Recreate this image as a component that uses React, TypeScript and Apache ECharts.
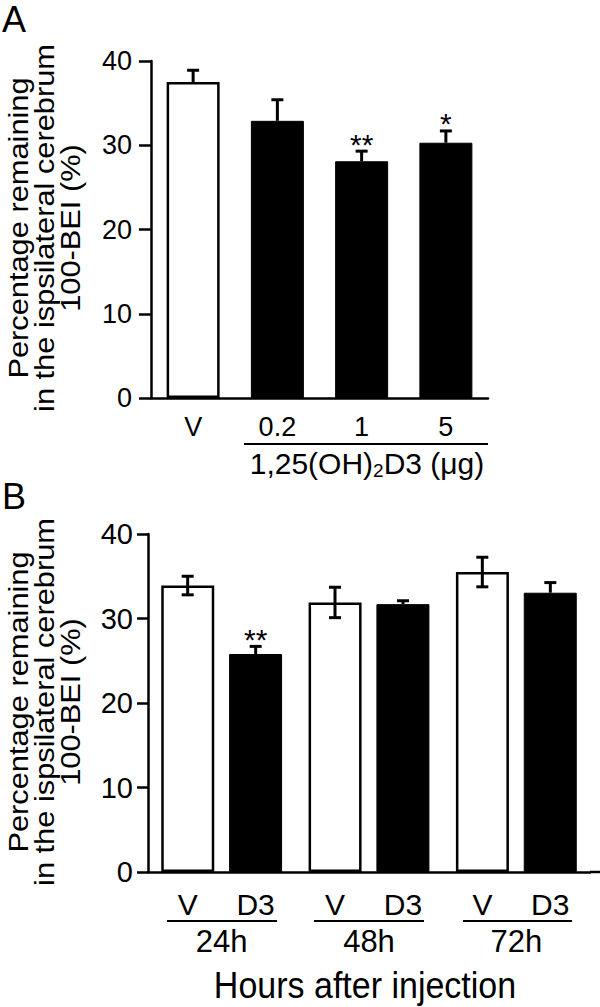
import React, { useEffect, useRef } from "react";
import * as echarts from "echarts";

const FONT = '"Liberation Sans", Arial, Helvetica, sans-serif';

// Panel A
const catsA = ["V", "0.2", "1", "5"];
const meanA = [37.5, 32.9, 28.1, 30.3];
const semA = [1.4, 2.5, 1.2, 1.4];
const sigA = ["", "", "**", "*"];

// Panel B
const groupsB = ["24h", "48h", "72h"];
const meanBV = [33.9, 31.9, 35.5];
const semBV = [1.1, 1.8, 1.75];
const meanBD = [25.8, 31.7, 33.05];
const semBD = [0.9, 0.4, 1.2];
const sigBD = ["**", "", ""];

const yTitle = "Percentage remaining\nin the ispsilateral cerebrum\n100-BEI (%)";

function errRender(offsetPx: number, both: boolean, sig: string[]) {
  return (params: any, api: any) => {
    const c = api.value(0);
    const m = api.value(1);
    const e = api.value(2);
    const base = api.coord([c, m]);
    const x = base[0] + offsetPx;
    const top = api.coord([c, m + e])[1];
    const bot = both ? api.coord([c, m - e])[1] : base[1];
    const cap = 6;
    const ls = { stroke: "#000", lineWidth: 3 };
    const children: any[] = [
      { type: "line", shape: { x1: x, y1: bot, x2: x, y2: top }, style: ls },
      { type: "line", shape: { x1: x - cap, y1: top, x2: x + cap, y2: top }, style: ls },
    ];
    if (both) {
      children.push({ type: "line", shape: { x1: x - cap, y1: bot, x2: x + cap, y2: bot }, style: ls });
    }
    const s = sig[params.dataIndex];
    if (s) {
      children.push({
        type: "text",
        x,
        y: top + 8,
        style: { text: s, textAlign: "center", textVerticalAlign: "bottom", font: `30px ${FONT}`, fill: "#000" },
      });
    }
    return { type: "group", children };
  };
}

function yAxisCfg(grid: number, fs: number, margin: number, tickLen: number) {
  return {
    type: "value",
    gridIndex: grid,
    min: 0,
    max: 40,
    interval: 10,
    axisLine: { show: true, lineStyle: { color: "#000", width: 2.5 } },
    axisTick: { show: true, length: tickLen, lineStyle: { color: "#000", width: 2.5 } },
    axisLabel: { color: "#000", fontSize: fs, fontFamily: FONT, margin },
    splitLine: { show: false },
  };
}

export default function App() {
  const ref = useRef<HTMLDivElement>(null);
  useEffect(() => {
    const chart = echarts.init(ref.current!, null, { renderer: "svg" });
    const white = { color: "#fff", borderColor: "#000", borderWidth: 2.5 };
    const black = { color: "#000", borderColor: "#000", borderWidth: 1 };
    const barLabel = { show: true, position: "bottom", distance: 17, formatter: "{a}", color: "#000", fontSize: 30, fontFamily: FONT };
    const option: any = {
      animation: false,
      backgroundColor: "#fff",
      grid: [
        { left: 151, top: 61, width: 337, height: 337 },
        { left: 148, top: 534, width: 442, height: 338 },
      ],
      xAxis: [
        {
          type: "category",
          gridIndex: 0,
          data: catsA,
          axisLine: { lineStyle: { color: "#000", width: 2.5 } },
          axisTick: { show: false },
          axisLabel: { color: "#000", fontSize: 27, fontFamily: FONT, margin: 15 },
        },
        {
          type: "category",
          gridIndex: 1,
          data: groupsB,
          axisLine: { lineStyle: { color: "#000", width: 2.5 } },
          axisTick: { show: false },
          axisLabel: { color: "#000", fontSize: 31, fontFamily: FONT, margin: 54 },
        },
      ],
      yAxis: [yAxisCfg(0, 27, 19, 12), yAxisCfg(1, 29, 15, 11)],
      series: [
        {
          type: "bar",
          xAxisIndex: 0,
          yAxisIndex: 0,
          barWidth: 53,
          data: meanA.map((v, i) => ({ value: v, itemStyle: i === 0 ? white : black })),
        },
        {
          type: "custom",
          xAxisIndex: 0,
          yAxisIndex: 0,
          renderItem: errRender(0, false, sigA),
          encode: { x: 0, y: 1 },
          data: meanA.map((v, i) => [i, v, semA[i]]),
          z: 5,
        },
        {
          type: "bar",
          name: "V",
          xAxisIndex: 1,
          yAxisIndex: 1,
          barWidth: 53,
          barGap: "28%",
          itemStyle: white,
          label: barLabel,
          data: meanBV,
        },
        {
          type: "bar",
          name: "D3",
          xAxisIndex: 1,
          yAxisIndex: 1,
          barWidth: 53,
          barGap: "28%",
          itemStyle: black,
          label: barLabel,
          data: meanBD,
        },
        {
          type: "custom",
          xAxisIndex: 1,
          yAxisIndex: 1,
          renderItem: errRender(-34, true, ["", "", ""]),
          encode: { x: 0, y: 1 },
          data: meanBV.map((v, i) => [i, v, semBV[i]]),
          z: 5,
        },
        {
          type: "custom",
          xAxisIndex: 1,
          yAxisIndex: 1,
          renderItem: errRender(34, false, sigBD),
          encode: { x: 0, y: 1 },
          data: meanBD.map((v, i) => [i, v, semBD[i]]),
          z: 5,
        },
      ],
      graphic: [
        { type: "text", x: 2, y: 1, style: { text: "A", font: `36px ${FONT}`, fill: "#000", textVerticalAlign: "top" } },
        { type: "text", x: 2, y: 478, style: { text: "B", font: `36px ${FONT}`, fill: "#000", textVerticalAlign: "top" } },
        {
          type: "text",
          x: 44,
          y: 228,
          rotation: Math.PI / 2,
          scaleX: 1.1,
          style: { text: yTitle, textAlign: "center", textVerticalAlign: "middle", font: `28px ${FONT}`, lineHeight: 26, fill: "#000" },
        },
        {
          type: "text",
          x: 44,
          y: 702,
          rotation: Math.PI / 2,
          scaleX: 1.1,
          style: { text: yTitle, textAlign: "center", textVerticalAlign: "middle", font: `28px ${FONT}`, lineHeight: 26, fill: "#000" },
        },
        { type: "line", shape: { x1: 244, y1: 444, x2: 488, y2: 444 }, style: { stroke: "#000", lineWidth: 2 } },
        {
          type: "text",
          x: 367,
          y: 463,
          style: {
            text: "{n|1,25(OH)}{s|2}{n|D3 (μg)}",
            textAlign: "center",
            textVerticalAlign: "middle",
            rich: {
              n: { fontSize: 30, fontFamily: FONT, fill: "#000", color: "#000" },
              s: { fontSize: 19, fontFamily: FONT, fill: "#000", color: "#000", padding: [14, 0, 0, 0] },
            },
          },
        },
        { type: "line", shape: { x1: 590, y1: 872, x2: 600, y2: 872 }, style: { stroke: "#000", lineWidth: 2.5 } },
        { type: "line", shape: { x1: 167, y1: 921, x2: 277, y2: 921 }, style: { stroke: "#000", lineWidth: 2 } },
        { type: "line", shape: { x1: 314, y1: 921, x2: 424, y2: 921 }, style: { stroke: "#000", lineWidth: 2 } },
        { type: "line", shape: { x1: 463, y1: 921, x2: 572, y2: 921 }, style: { stroke: "#000", lineWidth: 2 } },
        {
          type: "text",
          x: 365,
          y: 985,
          scaleY: 1.08,
          style: { text: "Hours after injection", textAlign: "center", textVerticalAlign: "middle", font: `34px ${FONT}`, fill: "#000" },
        },
      ],
    };
    chart.setOption(option);
    return () => chart.dispose();
  }, []);
  return (
    <div
      ref={ref}
      style={{ position: "fixed", left: 0, top: 0, width: 600, height: 1007, background: "#fff" }}
    />
  );
}
